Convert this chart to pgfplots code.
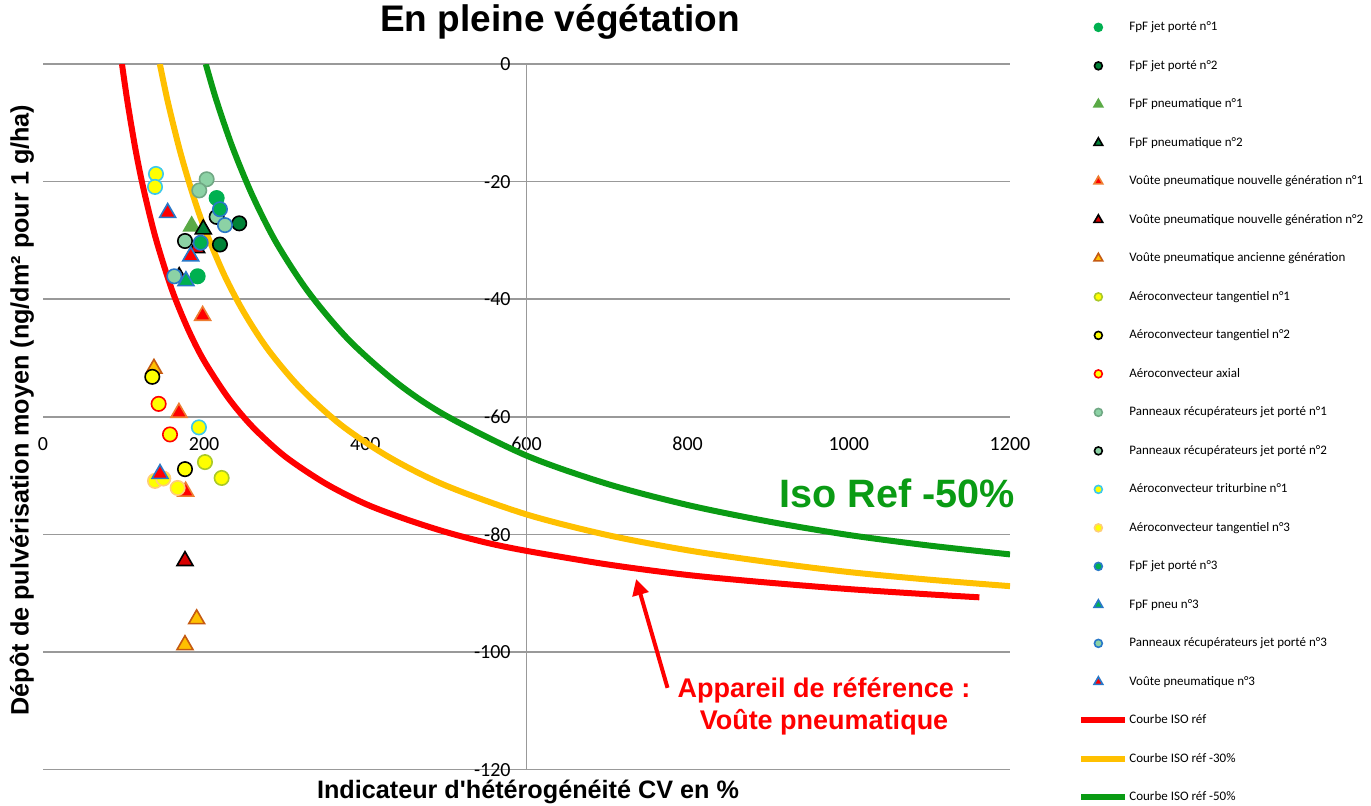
\documentclass[border=0pt]{standalone}
\usepackage{pgfplots}
\pgfplotsset{compat=1.18}
\usepackage{fontspec}
\setmainfont{Liberation Sans}[Ligatures=TeXOff]
\newfontfamily\calibri{Carlito}
\usetikzlibrary{arrows.meta}
\definecolor{xlgreen}{RGB}{0,176,80}
\definecolor{darkgr}{RGB}{0,130,55}
\definecolor{trigreen}{RGB}{90,170,70}
\definecolor{xlorange}{RGB}{237,125,49}
\definecolor{xlbrown}{RGB}{197,90,17}
\definecolor{xlamber}{RGB}{255,192,0}
\definecolor{xlyellow}{RGB}{255,255,0}
\definecolor{yelgreen}{RGB}{170,200,40}
\definecolor{xlcyan}{RGB}{60,200,235}
\definecolor{xlblue}{RGB}{40,120,200}
\definecolor{lorange}{RGB}{255,205,120}
\definecolor{pattgreen}{RGB}{140,210,165}
\definecolor{curvered}{RGB}{255,0,0}
\definecolor{curvegreen}{RGB}{10,155,20}
\pgfplotsset{
  mk/.style={only marks,
    legend image code/.code={\path[draw=none,fill=none] (0pt,0pt) -- (22pt,0pt);
      \path[draw=none,fill=none,only marks,mark repeat=2,mark phase=2,/tikz/every mark/.append style={scale=0.55}]
        plot coordinates {(0pt,0pt) (8.5pt,0pt) (17pt,0pt)};}},
  circ/.style 2 args={mk, mark=*, mark size=3.6pt, mark options={fill=#1, draw=#2, line width=0.8pt}},
  tri/.style 2 args={mk, mark=triangle*, mark size=4.6pt, mark options={fill=#1, draw=#2, line width=0.8pt}},
  curve/.style={no marks, smooth, line width=3pt, #1,
    legend image code/.code={\draw (0pt,0pt) -- (22pt,0pt);}},
}
\begin{document}
\begin{tikzpicture}
\useasboundingbox (0,0) rectangle (685.5pt,402.5pt);
\begin{axis}[
  at={(21.5pt,17.7pt)}, anchor=south west,
  scale only axis, width=483.5pt, height=352.8pt,
  xmin=0, xmax=1200, ymin=-120, ymax=0,
  axis line style={draw=none},
  major tick length=0pt,
  xtick={0,200,400,600,800,1000,1200},
  xticklabels={0,200,400,600,800,1000,1200},
  ytick={-120,-100,-80,-60,-40,-20,0},
  yticklabels={-120,-100,-80,-60,-40,-20,0},
  ymajorgrids,
  grid style={draw=black!40, line width=0.8pt},
  extra x ticks={600}, extra x tick labels={}, extra x tick style={grid=major},
  xticklabel style={font=\calibri\fontsize{10}{12}\selectfont, anchor=north, inner sep=0pt, yshift=166.4pt},
  yticklabel style={font=\calibri\fontsize{10}{12}\selectfont, anchor=east, inner sep=0pt, xshift=234pt},
  legend style={at={(1.0703,1.0617)}, anchor=north west, draw=none, fill=none,
    font=\calibri\fontsize{6.5}{7}\selectfont, inner sep=0pt, row sep=12.75pt,
    nodes={inner sep=0pt, text height=5pt, text depth=1.5pt},
    /tikz/every odd column/.append style={column sep=0.5pt}},
  legend cell align=left,
]
\addplot[circ={xlgreen}{xlgreen}] coordinates {(215.5,-22.8) (191.9,-36.1)};
\addlegendentry{FpF jet porté n°1}
\addplot[circ={darkgr}{black}] coordinates {(243.5,-27.1) (219.6,-30.7)};
\addlegendentry{FpF jet porté n°2}
\addplot[tri={trigreen}{trigreen}] coordinates {(184.5,-27.6)};
\addlegendentry{FpF pneumatique n°1}
\addplot[tri={darkgr}{black}] coordinates {(198.9,-28.1)};
\addlegendentry{FpF pneumatique n°2}
\addplot[tri={curvered}{xlorange}] coordinates {(198.1,-42.8) (168.7,-59.3) (177.0,-72.7)};
\addlegendentry{Voûte pneumatique nouvelle génération n°1}
\addplot[tri={curvered!85!black}{black}] coordinates {(169,-36.2) (190.7,-31.3) (176.2,-84.5)};
\addlegendentry{Voûte pneumatique nouvelle génération n°2}
\addplot[tri={xlamber}{xlbrown}] coordinates {(137.7,-51.8) (190.7,-94.4) (176.2,-98.8)};
\addlegendentry{Voûte pneumatique ancienne génération}
\addplot[circ={xlyellow}{yelgreen}] coordinates {(201.0,-67.7) (221.7,-70.4)};
\addlegendentry{Aéroconvecteur tangentiel n°1}
\addplot[circ={xlyellow}{black}] coordinates {(135.6,-53.2) (176.2,-68.9)};
\addlegendentry{Aéroconvecteur tangentiel n°2}
\addplot[circ={xlyellow}{curvered}] coordinates {(143.5,-57.8) (157.6,-63.0)};
\addlegendentry{Aéroconvecteur axial}
\addplot[circ={pattgreen}{pattgreen!80!black}] coordinates {(203.1,-19.6) (193.9,-21.5)};
\addlegendentry{Panneaux récupérateurs jet porté n°1}
\addplot[circ={pattgreen}{black}] coordinates {(215.5,-26.0) (176.2,-30.1)};
\addlegendentry{Panneaux récupérateurs jet porté n°2}
\addplot[circ={xlyellow}{xlcyan}] coordinates {(140.2,-18.7) (139.0,-20.9) (193.5,-61.8)};
\addlegendentry{Aéroconvecteur triturbine n°1}
\addplot[circ={xlyellow}{lorange}] coordinates {(139.0,-70.9) (149.3,-70.5) (167.1,-72.1)};
\addlegendentry{Aéroconvecteur tangentiel n°3}
\addplot[circ={xlgreen}{xlblue}] coordinates {(195.7,-30.4) (219.6,-24.7)};
\addlegendentry{FpF jet porté n°3}
\addplot[tri={xlgreen}{xlblue}] coordinates {(177.4,-36.9)};
\addlegendentry{FpF pneu n°3}
\addplot[circ={pattgreen}{xlblue}] coordinates {(162.9,-36.1) (225.8,-27.4)};
\addlegendentry{Panneaux récupérateurs jet porté n°3}
\addplot[tri={curvered}{xlblue}] coordinates {(154.7,-25.3) (183.3,-32.7) (145.2,-69.7)};
\addlegendentry{Voûte pneumatique n°3}
\addplot[curve=curvered] coordinates {
 (98,0) (105,-6.6) (115,-14.7) (125,-21.4) (140,-29.7) (160,-38.4) (180,-45.1)
 (200,-50.5) (230,-56.8) (260,-61.7) (300,-66.7) (350,-71.3) (400,-74.8)
 (450,-77.4) (500,-79.6) (550,-81.4) (600,-82.8) (700,-85.1) (800,-86.9)
 (900,-88.2) (1000,-89.3) (1100,-90.2) (1162,-90.7)};
\addlegendentry{Courbe ISO réf}
\addplot[curve=xlamber] coordinates {
 (145,0) (155,-6.5) (170,-14.8) (185,-21.8) (200,-27.8) (225,-35.9) (250,-42.4)
 (280,-48.7) (320,-55.2) (370,-61.4) (430,-66.9) (500,-71.7) (600,-76.6)
 (700,-80.1) (800,-82.7) (900,-84.7) (1000,-86.4) (1100,-87.7) (1200,-88.8)};
\addlegendentry{Courbe ISO réf -30\%}
\addplot[curve=curvegreen] coordinates {
 (202,0) (215,-6.1) (235,-14.1) (260,-22.4) (290,-30.5) (330,-38.9) (380,-47.0)
 (440,-54.3) (500,-59.8) (600,-66.6) (700,-71.4) (800,-75.0) (900,-77.8)
 (1000,-80.1) (1100,-81.9) (1200,-83.4)};
\addlegendentry{Courbe ISO réf -50\%}
\draw[curvered, line width=2pt, -{Triangle[length=8pt,width=8pt]}] (axis cs:775,-106.1) -- (axis cs:736,-87.6);
\end{axis}
\node[font=\fontsize{18.5}{22}\selectfont\bfseries] at (280pt,391.5pt) {En pleine végétation};
\node[font=\fontsize{12.6}{15}\selectfont\bfseries] at (264pt,6.5pt) {Indicateur d'hétérogénéité CV en \%};
\node[font=\fontsize{12.6}{15}\selectfont\bfseries, rotate=90] at (11pt,197.5pt) {Dépôt de pulvérisation moyen (ng/dm² pour 1 g/ha)};
\node[font=\fontsize{19.8}{24}\selectfont\bfseries, text=curvegreen] at (448.75pt,156pt) {Iso Ref -50\%};
\node[font=\fontsize{13.5}{16}\selectfont\bfseries, text=curvered, align=center] at (412pt,49.5pt) {Appareil de référence :\\Voûte pneumatique};
\end{tikzpicture}
\end{document}
